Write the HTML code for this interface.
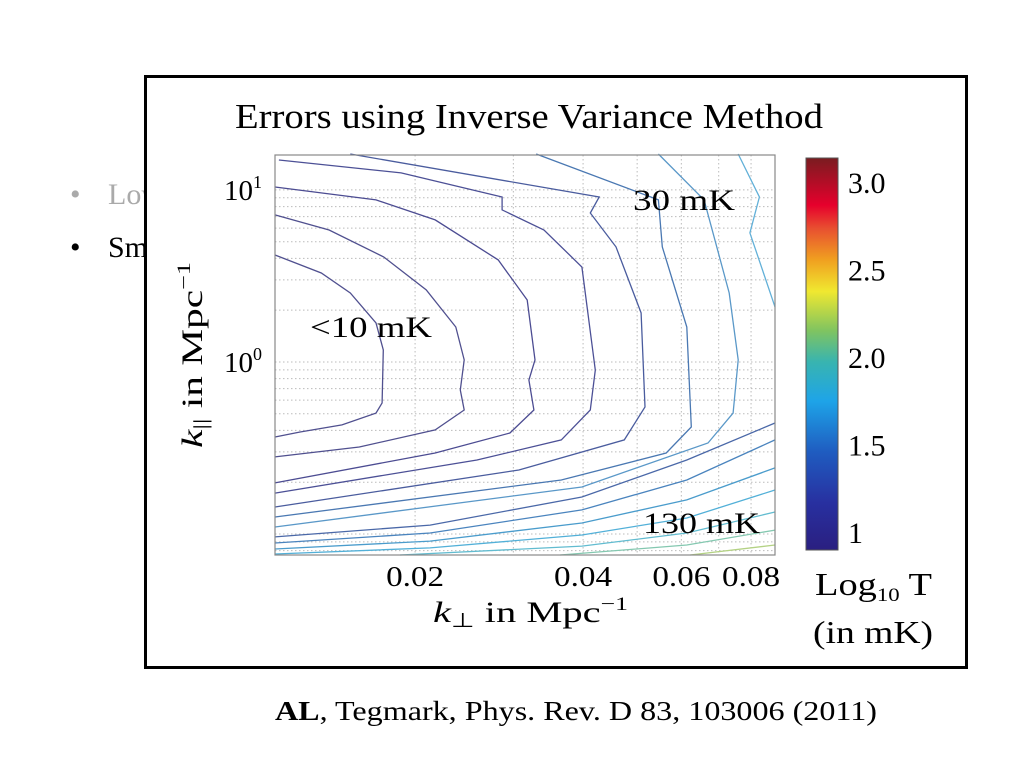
<!DOCTYPE html>
<html><head><meta charset="utf-8">
<style>
html,body{margin:0;padding:0;background:#fff;}
body{width:1024px;height:768px;position:relative;overflow:hidden;font-family:"Liberation Serif",serif;}
.bg{position:absolute;font-size:30px;white-space:nowrap;}
</style></head>
<body>
<div class="bg" style="left:70px;top:178px;color:#aaa;">•<span style="position:absolute;left:38px;">Low-frequency</span></div>
<div class="bg" style="left:70px;top:231px;color:#000;">•<span style="position:absolute;left:38px;">Smaller</span></div>
<div style="position:absolute;left:144px;top:75px;width:818px;height:588px;border:3px solid #000;background:#fff;"></div>
<svg id="chart" width="1024" height="768" style="position:absolute;left:0;top:0;" xmlns="http://www.w3.org/2000/svg" font-family="Liberation Serif">
<defs>
<linearGradient id="jet" x1="0" y1="1" x2="0" y2="0">
<stop offset="0" stop-color="#2a1f80"/>
<stop offset="0.12" stop-color="#2830a0"/>
<stop offset="0.25" stop-color="#1f5cc0"/>
<stop offset="0.38" stop-color="#1ea4e8"/>
<stop offset="0.48" stop-color="#38b4b0"/>
<stop offset="0.56" stop-color="#80c460"/>
<stop offset="0.66" stop-color="#f0e830"/>
<stop offset="0.74" stop-color="#f0a020"/>
<stop offset="0.82" stop-color="#e85030"/>
<stop offset="0.88" stop-color="#e6002c"/>
<stop offset="1" stop-color="#7a1c20"/>
</linearGradient>
</defs>
<g id="grid"></g>
<g id="contours"></g>
<rect x="275" y="155" width="500" height="400" fill="none" stroke="#888" stroke-width="1.2"/>
<g id="ticks"></g>
<text x="235" y="128" font-size="35" textLength="588" lengthAdjust="spacingAndGlyphs">Errors using Inverse Variance Method</text>
<text x="433" y="622" font-size="30" textLength="195" lengthAdjust="spacingAndGlyphs"><tspan font-style="italic">k</tspan><tspan font-size="20" dy="5">⊥</tspan><tspan dy="-5"> in Mpc</tspan><tspan font-size="19" dy="-12">−1</tspan></text>
<text transform="translate(202,448) rotate(-90)" font-size="30" textLength="186" lengthAdjust="spacingAndGlyphs"><tspan font-style="italic">k</tspan><tspan font-size="20" dy="5">||</tspan><tspan dy="-5"> in Mpc</tspan><tspan font-size="19" dy="-12">−1</tspan></text>
<text x="633" y="210" font-size="30" textLength="102" lengthAdjust="spacingAndGlyphs">30 mK</text>
<text x="310" y="337" font-size="30" textLength="122" lengthAdjust="spacingAndGlyphs">&lt;10 mK</text>
<text x="643" y="533" font-size="30" textLength="117" lengthAdjust="spacingAndGlyphs">130 mK</text>
<rect x="806" y="158" width="32" height="392" fill="url(#jet)" stroke="#555" stroke-width="1"/>
<g id="cbticks"></g>
<text x="815" y="595" font-size="32" textLength="117" lengthAdjust="spacingAndGlyphs">Log<tspan font-size="19" dy="6">10</tspan><tspan dy="-6"> T</tspan></text>
<text x="813" y="643" font-size="32" textLength="120" lengthAdjust="spacingAndGlyphs">(in mK)</text>
<text x="275" y="720" font-size="27" textLength="602" lengthAdjust="spacingAndGlyphs"><tspan font-weight="bold">AL</tspan>, Tegmark, Phys. Rev. D 83, 103006 (2011)</text>
</svg>
<script>
// log10 k_perp / log10 k_par points for each contour
const xTicks=[0.02,0.04,0.06,0.08];
const xTickLabels=["0.02","0.04","0.06","0.08"];
const yTicks=[1,10];
const yTickLabels=["10","10"];
const yTickExp=["0","1"];
const cbTicks=[1,1.5,2,2.5,3];
const cbTickLabels=["1","1.5","2.0","2.5","3.0"];
const contourX=[
[-1.950,-1.867,-1.815,-1.769,-1.756,-1.758,-1.769,-1.830,-1.905,-1.950],
[-1.950,-1.853,-1.755,-1.679,-1.626,-1.611,-1.618,-1.611,-1.663,-1.799,-1.950],
[-1.950,-1.769,-1.663,-1.550,-1.498,-1.484,-1.495,-1.486,-1.529,-1.663,-1.950],
[-1.943,-1.724,-1.543,-1.543,-1.468,-1.400,-1.376,-1.385,-1.437,-1.588,-1.950],
[-1.815,-1.369,-1.385,-1.339,-1.294,-1.287,-1.324,-1.513,-1.950],
[-1.482,-1.263,-1.256,-1.212,-1.204,-1.249,-1.437,-1.950],
[-1.263,-1.181,-1.136,-1.120,-1.129,-1.174,-1.400,-1.950],
[-1.120,-1.082,-1.099,-1.054],
[-1.950,-1.672,-1.400,-1.212,-1.054],
[-1.950,-1.672,-1.400,-1.212,-1.054],
[-1.950,-1.672,-1.400,-1.212,-1.054],
[-1.950,-1.672,-1.400,-1.212,-1.054],
[-1.726,-1.400,-1.212,-1.054],
[-1.439,-1.212,-1.054],
[-1.206,-1.054]
];
const contourY=[
[0.622,0.517,0.401,0.227,0.070,-0.238,-0.297,-0.366,-0.407,-0.436],
[0.855,0.767,0.610,0.419,0.203,0.012,-0.163,-0.279,-0.395,-0.494,-0.552],
[1.017,0.942,0.826,0.593,0.360,0.012,-0.105,-0.279,-0.413,-0.529,-0.703],
[1.174,1.099,0.959,0.884,0.767,0.552,-0.047,-0.279,-0.453,-0.570,-0.762],
[1.209,0.959,0.866,0.669,0.285,-0.262,-0.453,-0.628,-0.843],
[1.209,0.942,0.669,0.203,-0.378,-0.529,-0.686,-0.901],
[1.209,0.942,0.401,0.012,-0.297,-0.471,-0.727,-0.959],
[1.209,0.959,0.750,0.320],
[-1.017,-0.948,-0.785,-0.570,-0.355],
[-1.052,-0.994,-0.860,-0.686,-0.453],
[-1.087,-1.041,-0.936,-0.802,-0.616],
[-1.116,-1.081,-1.006,-0.907,-0.744],
[-1.122,-1.070,-0.994,-0.872],
[-1.122,-1.064,-0.977],
[-1.122,-1.064]
];
const contourColors=['#50508f','#50508f','#4c4c92','#4c5096','#4a5c9e','#4a78b2','#5a98c8','#62b0d8','#4a68a8','#4a84be','#4a9ccc','#52b0d8','#62bcd0','#84c8b0','#b4d284'];
const NS="http://www.w3.org/2000/svg";
const X0=275,X1=775,Y0=555,Y1=155;
const LX0=-1.950,LX1=-1.054,LY0=-1.122,LY1=1.203;
function sx(l){return X0+(l-LX0)/(LX1-LX0)*(X1-X0);}
function sy(l){return Y0-(l-LY0)/(LY1-LY0)*(Y0-Y1);}
function cby(v){return 532-(v-1)*175;}
function mk(tag,attrs,parent){const e=document.createElementNS(NS,tag);for(const k in attrs)e.setAttribute(k,attrs[k]);parent.appendChild(e);return e;}
const grid=document.getElementById('grid');
for(let d=-2;d<=-1;d++)for(let m=1;m<=9;m++){
  const l=d+Math.log10(m);
  if(l<=LX0||l>=LX1)continue;
  const ln=mk('line',{x1:sx(l),x2:sx(l),y1:Y1,y2:Y0,stroke:'#bbb','stroke-width':1,'stroke-dasharray':'1.5,2.5'},grid);
  
  
}
for(let d=-2;d<=1;d++)for(let m=1;m<=9;m++){
  const l=d+Math.log10(m);
  if(l<=LY0||l>=LY1)continue;
  const ln=mk('line',{x1:X0,x2:X1,y1:sy(l),y2:sy(l),stroke:'#bbb','stroke-width':1,'stroke-dasharray':'1.5,2.5'},grid);
  
  
}
const cg=document.getElementById('contours');
contourX.forEach((xs,i)=>{
  const pts=xs.map((x,j)=>sx(x).toFixed(1)+','+sy(contourY[i][j]).toFixed(1)).join(' ');
  const p=mk('polyline',{points:pts,fill:'none',stroke:contourColors[i],'stroke-width':1.3},cg);
  
  
});
const tg=document.getElementById('ticks');
xTicks.forEach((v,i)=>{
  const t=mk('text',{x:sx(Math.log10(v)),y:586,'font-size':29,'text-anchor':'middle',textLength:58,lengthAdjust:'spacingAndGlyphs'},tg);
  t.textContent=xTickLabels[i];
  
  
});
yTicks.forEach((v,i)=>{
  const t=mk('text',{x:224,y:sy(Math.log10(v))+10,'font-size':29},tg);
  t.textContent=yTickLabels[i];
  const s=mk('tspan',{'font-size':18,dy:-12},t);
  s.textContent=yTickExp[i];
  
  
});
const cbg=document.getElementById('cbticks');
cbTicks.forEach((v,i)=>{
  const t=mk('text',{x:848,y:cby(v)+11,'font-size':30},cbg);
  t.textContent=cbTickLabels[i];
  
  
});
</script>
</body></html>
